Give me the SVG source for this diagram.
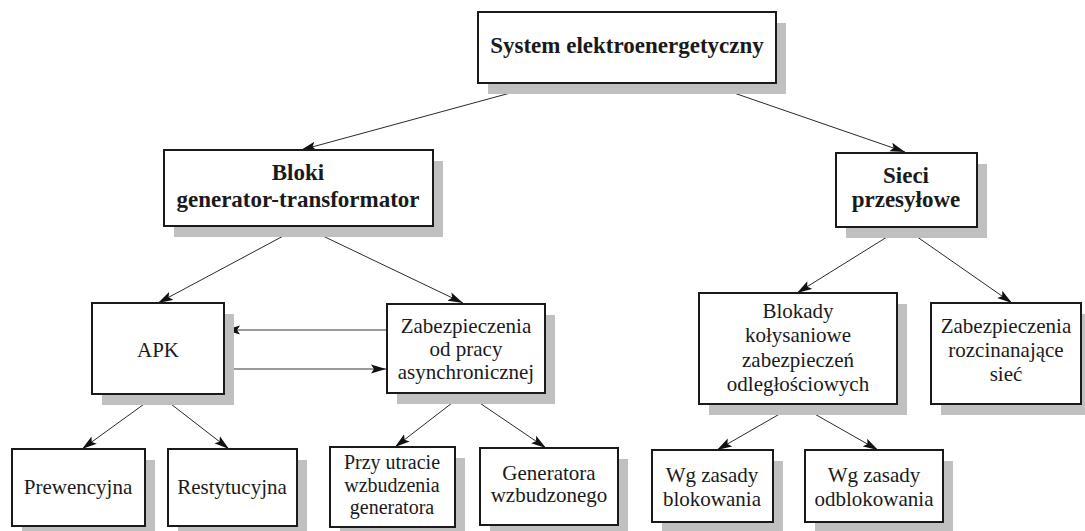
<svg xmlns="http://www.w3.org/2000/svg" width="1085" height="531" viewBox="0 0 1085 531">
<style>
.box{fill:#fff;stroke:#1a1a1a;stroke-width:2}
.sh{fill:#c0c0c0}
.t{font-family:"Liberation Serif","Times New Roman",serif;font-size:21px;fill:#1a1a1a;text-anchor:middle}
.s{font-size:20px}
.b{font-weight:bold;font-size:23px}
.c{stroke:#2a2a2a;stroke-width:1;fill:none;marker-end:url(#ah)}
.g{stroke:#7a7a7a;stroke-width:1.6;fill:none;marker-end:url(#ah)}
</style>
<defs>
<marker id="ah" markerUnits="userSpaceOnUse" markerWidth="16" markerHeight="10" refX="15" refY="5" orient="auto">
<path d="M0,0.5 L15,5 L0,9.5 L3,5 z" fill="#111"/>
</marker>
</defs>
<rect width="1085" height="531" fill="#fff"/>
<g id="connectors">
<line class="c" x1="547" y1="83" x2="301" y2="150"/>
<line class="c" x1="705" y1="83" x2="905" y2="152"/>
<line class="c" x1="302" y1="226" x2="158" y2="303"/>
<line class="c" x1="302" y1="226" x2="463" y2="303"/>
<line class="c" x1="903" y1="227" x2="797" y2="293"/>
<line class="c" x1="903" y1="227" x2="1012" y2="303"/>
<line class="g" x1="387" y1="330" x2="225" y2="330"/>
<line class="g" x1="225" y1="369" x2="386" y2="369"/>
<line class="c" x1="158" y1="394" x2="82" y2="449"/>
<line class="c" x1="158" y1="394" x2="229" y2="449"/>
<line class="c" x1="465" y1="393" x2="395" y2="447"/>
<line class="c" x1="465" y1="393" x2="546" y2="448"/>
<line class="c" x1="797" y1="404" x2="717" y2="450"/>
<line class="c" x1="797" y1="404" x2="878" y2="450"/>
</g>
<g id="n-system">
<rect class="sh" x="488" y="23" width="298" height="71"/>
<rect class="box" x="478" y="12" width="298" height="71"/>
<text class="t b" x="627" y="53">System elektroenergetyczny</text>
</g>
<g id="n-bloki">
<rect class="sh" x="174" y="161" width="269" height="76"/>
<rect class="box" x="164" y="150" width="269" height="76"/>
<text class="t b" x="298" y="180">Bloki</text>
<text class="t b" x="298" y="207">generator-transformator</text>
</g>
<g id="n-sieci">
<rect class="sh" x="846" y="164" width="141" height="74"/>
<rect class="box" x="836" y="153" width="141" height="74"/>
<text class="t b" x="906" y="183">Sieci</text>
<text class="t b" x="906" y="207">przesyłowe</text>
</g>
<g id="n-apk">
<rect class="sh" x="102" y="314" width="132" height="91"/>
<rect class="box" x="92" y="303" width="132" height="91"/>
<text class="t" x="158" y="357">APK</text>
</g>
<g id="n-zab-async">
<rect class="sh" x="397" y="315" width="158" height="89"/>
<rect class="box" x="387" y="304" width="158" height="89"/>
<text class="t" x="466" y="333">Zabezpieczenia</text>
<text class="t" x="466" y="356">od pracy</text>
<text class="t" x="466" y="379">asynchronicznej</text>
</g>
<g id="n-blokady">
<rect class="sh" x="709" y="304" width="198" height="111"/>
<rect class="box" x="699" y="293" width="198" height="111"/>
<text class="t" x="798" y="318">Blokady</text>
<text class="t" x="798" y="342">kołysaniowe</text>
<text class="t" x="798" y="367">zabezpieczeń</text>
<text class="t" x="798" y="391">odległościowych</text>
</g>
<g id="n-zab-rozc">
<rect class="sh" x="941" y="314" width="150" height="101"/>
<rect class="box" x="931" y="303" width="150" height="101"/>
<text class="t" x="1006" y="333">Zabezpieczenia</text>
<text class="t" x="1006" y="357">rozcinanające</text>
<text class="t" x="1006" y="381">sieć</text>
</g>
<g id="n-prew">
<rect class="sh" x="22" y="460" width="133" height="77"/>
<rect class="box" x="12" y="449" width="133" height="77"/>
<text class="t" x="78" y="494">Prewencyjna</text>
</g>
<g id="n-rest">
<rect class="sh" x="178" y="460" width="129" height="77"/>
<rect class="box" x="168" y="449" width="129" height="77"/>
<text class="t" x="232" y="494">Restytucyjna</text>
</g>
<g id="n-przy">
<rect class="sh" x="340" y="458" width="125" height="80"/>
<rect class="box" x="330" y="447" width="125" height="80"/>
<text class="t s" x="392" y="469">Przy utracie</text>
<text class="t s" x="392" y="491.5">wzbudzenia</text>
<text class="t s" x="392" y="514">generatora</text>
</g>
<g id="n-gen">
<rect class="sh" x="490" y="459" width="138" height="77"/>
<rect class="box" x="480" y="448" width="138" height="77"/>
<text class="t" x="549" y="480">Generatora</text>
<text class="t" x="549" y="502">wzbudzonego</text>
</g>
<g id="n-wgb">
<rect class="sh" x="662" y="461" width="121" height="72"/>
<rect class="box" x="652" y="450" width="121" height="72"/>
<text class="t" x="712" y="482">Wg zasady</text>
<text class="t" x="712" y="506">blokowania</text>
</g>
<g id="n-wgo">
<rect class="sh" x="815" y="461" width="138" height="72"/>
<rect class="box" x="805" y="450" width="138" height="72"/>
<text class="t" x="874" y="482">Wg zasady</text>
<text class="t" x="874" y="506">odblokowania</text>
</g>
</svg>
